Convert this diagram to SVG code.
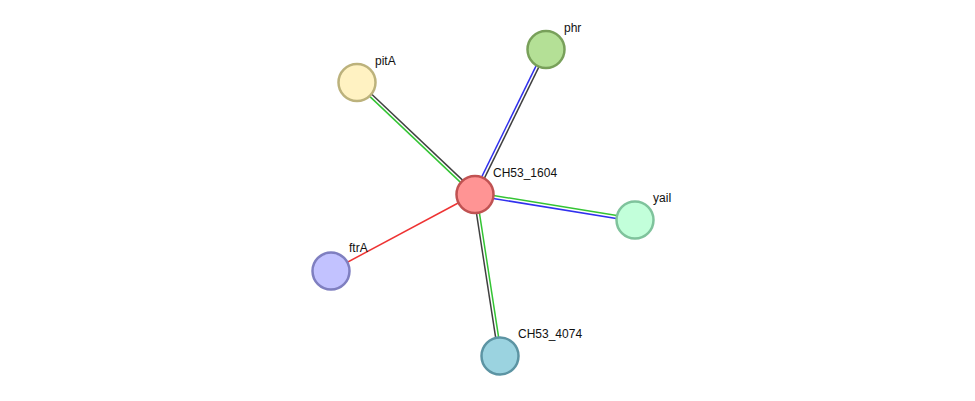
<svg xmlns="http://www.w3.org/2000/svg" width="975" height="401" viewBox="0 0 975 401">
<style>
.e{stroke-width:1.5;fill:none}
.k{stroke:#404040}
.g{stroke:#33c433}
.b{stroke:#3030ee}
.r{stroke:#ee3333}
.n{stroke-width:2.5}
text{font-family:"Liberation Sans",Arial,sans-serif;font-size:12px;fill:#111}
</style>
<rect width="975" height="401" fill="#fff"/>
<g id="edges">
<line class="e k" x1="476" y1="192.9" x2="358" y2="81.2"/>
<line class="e g" x1="474" y1="195.1" x2="356" y2="83.4"/>
<line class="e k" x1="476.35" y1="194.66" x2="547.35" y2="49.66"/>
<line class="e b" x1="473.65" y1="193.34" x2="544.65" y2="48.34"/>
<line class="e g" x1="475.24" y1="192.52" x2="635.24" y2="218.52"/>
<line class="e b" x1="474.76" y1="195.48" x2="634.76" y2="221.48"/>
<line class="e g" x1="476.48" y1="193.77" x2="501.48" y2="355.77"/>
<line class="e k" x1="473.52" y1="194.23" x2="498.52" y2="356.23"/>
<line class="e r" x1="475" y1="194" x2="331" y2="271"/>
</g>
<g id="pitA"><circle class="n" cx="357" cy="82.5" r="18.5" fill="#fff2c2" stroke="#bcb27c"/><text x="375" y="65">pitA</text></g>
<g id="phr"><circle class="n" cx="546" cy="49.5" r="18.5" fill="#b4e096" stroke="#78a05a"/><text x="564" y="32">phr</text></g>
<g id="yaiI"><circle class="n" cx="635" cy="220" r="18.5" fill="#c2ffda" stroke="#7fc39c"/><text x="653" y="202">yaiI</text></g>
<g id="ftrA"><circle class="n" cx="331" cy="271" r="18.5" fill="#c2c2ff" stroke="#7f7fc0"/><text x="349" y="252">ftrA</text></g>
<g id="CH53_4074"><circle class="n" cx="500" cy="356" r="18.5" fill="#9bd3e0" stroke="#5c94a3"/><text x="518" y="338">CH53_4074</text></g>
<g id="CH53_1604"><circle class="n" cx="475" cy="194.5" r="18.5" fill="#ff9494" stroke="#c05252"/><text x="493" y="177">CH53_1604</text></g>
</svg>
